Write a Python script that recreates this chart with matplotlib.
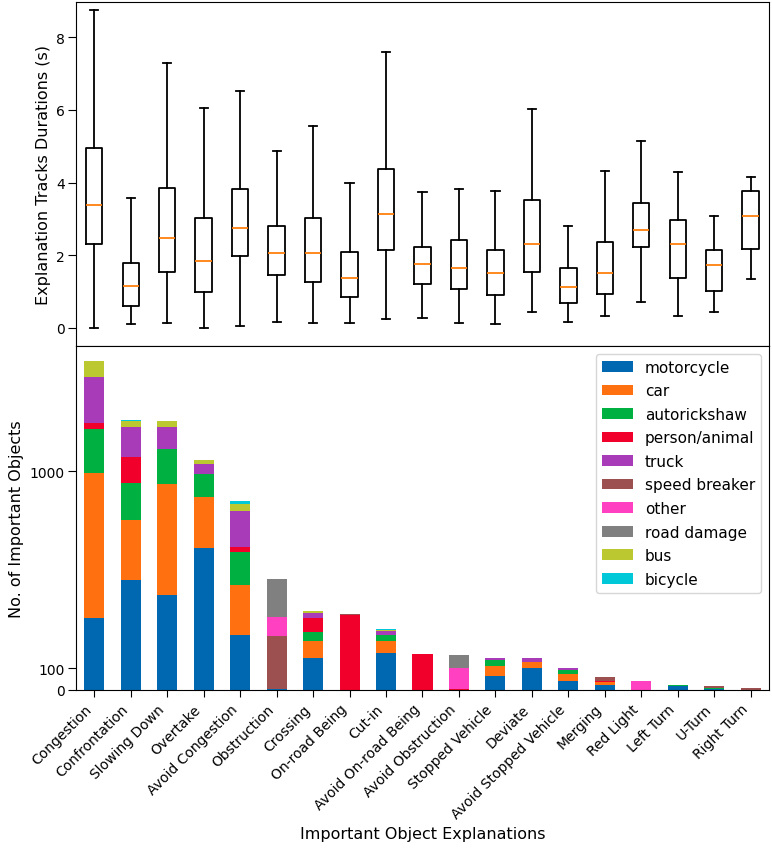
import numpy as np
import matplotlib
matplotlib.use("Agg")
import matplotlib.pyplot as plt
from matplotlib.ticker import NullLocator

plt.rcParams['font.family'] = ['DejaVu Sans']
plt.rcParams['font.size'] = 10
plt.rcParams['axes.labelsize'] = 11.5
plt.rcParams['xtick.major.size'] = 5
plt.rcParams['ytick.major.size'] = 5.5
plt.rcParams['xtick.major.pad'] = 3.5
plt.rcParams['ytick.major.pad'] = 2.5

categories = ["Congestion", "Confrontation", "Slowing Down", "Overtake", "Avoid Congestion",
              "Obstruction", "Crossing", "On-road Being", "Cut-in", "Avoid On-road Being",
              "Avoid Obstruction", "Stopped Vehicle", "Deviate", "Avoid Stopped Vehicle",
              "Merging", "Red Light", "Left Turn", "U-Turn", "Right Turn"]

# Box plot statistics (seconds)
whisker_low = [0.00, 0.11, 0.14, 0.00, 0.05, 0.17, 0.14, 0.14, 0.23, 0.26,
               0.14, 0.11, 0.44, 0.17, 0.32, 0.72, 0.32, 0.44, 1.34]
q1 = [2.32, 0.60, 1.54, 0.99, 1.99, 1.46, 1.27, 0.84, 2.13, 1.20,
      1.06, 0.91, 1.54, 0.69, 0.94, 2.23, 1.37, 1.02, 2.17]
median = [3.37, 1.15, 2.48, 1.83, 2.75, 2.05, 2.05, 1.37, 3.12, 1.77,
          1.64, 1.50, 2.30, 1.13, 1.52, 2.70, 2.30, 1.74, 3.09]
q3 = [4.94, 1.79, 3.86, 3.03, 3.83, 2.81, 3.01, 2.10, 4.36, 2.23,
      2.42, 2.14, 3.53, 1.66, 2.35, 3.44, 2.97, 2.14, 3.77]
whisker_high = [8.76, 3.56, 7.29, 6.06, 6.52, 4.86, 5.56, 3.99, 7.60, 3.74,
                3.83, 3.77, 6.03, 2.79, 4.33, 5.13, 4.28, 3.09, 4.14]

# Object counts per explanation
object_types = ["motorcycle", "car", "autorickshaw", "person/animal", "truck",
                "speed breaker", "other", "road damage", "bus", "bicycle"]
motorcycle    = [179, 280, 236, 408, 147, 3, 112, 0, 119, 0, 0, 65, 100, 40, 24, 0, 18, 4, 0]
car           = [804, 287, 628, 328, 118, 0, 25, 0, 18, 0, 0, 38, 7, 32, 12, 0, 0, 0, 0]
autorickshaw  = [650, 304, 436, 236, 124, 0, 16, 0, 10, 0, 0, 7, 0, 21, 0, 0, 3, 3, 0]
person_animal = [121, 309, 0, 0, 21, 0, 27, 186, 0, 118, 5, 0, 0, 0, 3, 0, 0, 0, 0]
truck         = [1259, 490, 370, 117, 218, 0, 10, 0, 7, 0, 0, 3, 5, 5, 3, 0, 0, 0, 0]
speed_breaker = [0, 0, 0, 0, 0, 142, 0, 3, 0, 0, 0, 0, 0, 0, 16, 0, 0, 9, 7]
other         = [0, 0, 0, 0, 0, 37, 0, 0, 0, 0, 94, 0, 0, 0, 0, 41, 0, 0, 0]
road_damage   = [0, 0, 0, 0, 0, 100, 0, 0, 0, 0, 17, 0, 0, 0, 0, 0, 0, 0, 3]
bus           = [627, 120, 130, 46, 54, 0, 4, 0, 2, 0, 0, 0, 0, 0, 0, 0, 0, 0, 0]
bicycle       = [0, 30, 0, 0, 26, 0, 0, 0, 2, 0, 0, 0, 1, 0, 0, 0, 0, 0, 0]

series = [motorcycle, car, autorickshaw, person_animal, truck,
          speed_breaker, other, road_damage, bus, bicycle]
colors = ["#0068b0", "#ff7010", "#00b040", "#f0002a", "#a83cb8",
          "#9c5050", "#ff40c0", "#808080", "#bcc830", "#00c8d8"]

fig, (ax1, ax2) = plt.subplots(2, 1, figsize=(7.72, 8.53), dpi=100, sharex=True)
fig.subplots_adjust(left=0.0985, right=0.996, top=0.9965, bottom=0.19, hspace=0)

x = np.arange(len(categories))

stats = []
for i, c in enumerate(categories):
    stats.append(dict(label=c, whislo=whisker_low[i], q1=q1[i], med=median[i],
                      q3=q3[i], whishi=whisker_high[i], fliers=[]))
ax1.bxp(stats, positions=x, widths=0.45, showfliers=False,
        boxprops=dict(color="black", linewidth=1.3),
        whiskerprops=dict(color="black", linewidth=1.3),
        capprops=dict(color="black", linewidth=1.3),
        medianprops=dict(color="#ff7f0e", linewidth=1.3))
ax1.set_ylim(-0.5, 8.97)
ax1.set_yticks([0, 2, 4, 6, 8])
ax1.set_ylabel("Explanation Tracks Durations (s)")
ax1.tick_params(axis="x", bottom=False, labelbottom=False)

bottom = np.zeros(len(categories))
for name, vals, col in zip(object_types, series, colors):
    vals = np.array(vals, dtype=float)
    ax2.bar(x, vals, width=0.55, bottom=bottom, color=col, label=name)
    bottom += vals

ax2.set_yscale("symlog", linthresh=100, linscale=0.1)
ax2.set_ylim(0, 4330)
ax2.set_yticks([0, 100, 1000], labels=["0", "100", "1000"])
ax2.yaxis.set_minor_locator(NullLocator())
ax2.set_xlim(-0.5, len(categories) - 0.5)
ax2.set_xticks(x)
ax2.set_xticklabels(categories, rotation=45, ha="right")
ax2.set_ylabel("No. of Important Objects")
ax2.set_xlabel("Important Object Explanations")
ax2.legend(loc="upper right", fontsize=11, labelspacing=0.56)

fig.savefig("out.png", dpi=100)
